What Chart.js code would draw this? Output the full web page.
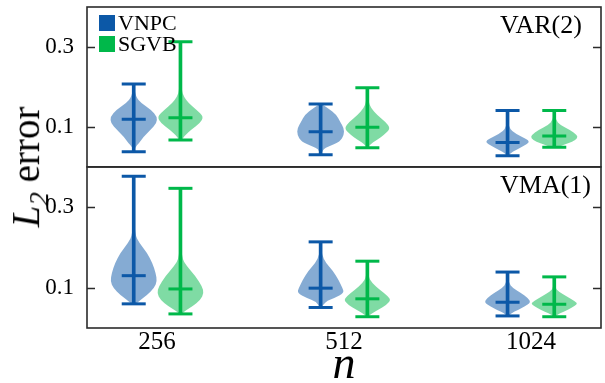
<html>
<head>
  <title>L2 error violins</title>
  <script src="https://cdn.jsdelivr.net/npm/chart.js"></script>
  <style>
    body { margin: 0; background: #fff; }
    #wrap { position: relative; width: 605px; height: 383px; overflow: hidden; }
    #topChart { position: absolute; left: 0; top: 0; }
    #bottomChart { position: absolute; left: 0; top: 160px; }
    #ylabel {
      position: absolute; left: 29px; top: 167px;
      transform: translate(-50%, -50%) rotate(-90deg);
      font-family: 'Liberation Serif'; font-size: 39px; white-space: nowrap; color: #000;
    }
    #ylabel sub { font-size: 27px; font-style: italic; }
  </style>
</head>
<body>
  <div id="wrap">
    <canvas id="topChart" width="605" height="173"></canvas>
    <canvas id="bottomChart" width="605" height="223"></canvas>
    <div id="ylabel"><i>L</i><sub>2</sub> error</div>
  </div>

  <script>
    // x categories and y ticks
    const categories = ['256', '512', '1024'];
    const methods = ['VNPC', 'SGVB'];
    const yTicks = [0.1, 0.3];

    // VAR(2) panel: min / median / max for each n
    const var2VnpcMin = [0.038, 0.030, 0.0275];
    const var2VnpcMedian = [0.119, 0.088, 0.061];
    const var2VnpcMax = [0.2075, 0.157, 0.141];
    const var2SgvbMin = [0.0675, 0.048, 0.049];
    const var2SgvbMedian = [0.123, 0.099, 0.0775];
    const var2SgvbMax = [0.313, 0.198, 0.141];

    // VMA(1) panel
    const vma1VnpcMin = [0.060, 0.051, 0.030];
    const vma1VnpcMedian = [0.130, 0.099, 0.064];
    const vma1VnpcMax = [0.377, 0.214, 0.139];
    const vma1SgvbMin = [0.035, 0.028, 0.028];
    const vma1SgvbMedian = [0.097, 0.0725, 0.059];
    const vma1SgvbMax = [0.347, 0.166, 0.127];

    // violin outlines, [value, relative half width], read bottom to top
    const var2VnpcShapes = [
      [[0.038,0.01],[0.049,0.06],[0.059,0.22],[0.076,0.43],[0.0925,0.72],[0.109,0.98],[0.126,1.0],[0.1425,0.74],[0.159,0.33],[0.176,0.08],[0.2075,0.01]],
      [[0.03,0.02],[0.045,0.1],[0.0508,0.35],[0.0633,0.83],[0.08,1.0],[0.0967,1.0],[0.1133,0.83],[0.13,0.68],[0.1467,0.32],[0.157,0.05]],
      [[0.0275,0.03],[0.0342,0.12],[0.0425,0.36],[0.0508,0.65],[0.0633,1.0],[0.0758,0.58],[0.0883,0.19],[0.1008,0.06],[0.12,0.02],[0.141,0.01]]
    ];
    const var2SgvbShapes = [
      [[0.0675,0.05],[0.08,0.2],[0.0925,0.46],[0.109,0.83],[0.126,1.0],[0.1425,0.68],[0.159,0.36],[0.176,0.14],[0.1925,0.05],[0.25,0.02],[0.313,0.01]],
      [[0.048,0.03],[0.055,0.1],[0.0675,0.4],[0.08,0.72],[0.0967,1.0],[0.1133,0.76],[0.13,0.41],[0.1467,0.16],[0.1633,0.05],[0.198,0.01]],
      [[0.049,0.15],[0.055,0.4],[0.0633,0.78],[0.0717,1.0],[0.08,0.97],[0.0925,0.68],[0.105,0.25],[0.1175,0.06],[0.141,0.01]]
    ];
    const vma1VnpcShapes = [
      [[0.06,0.1],[0.07,0.3],[0.0825,0.58],[0.0992,0.87],[0.1158,1.0],[0.1367,0.94],[0.1617,0.8],[0.1867,0.57],[0.2117,0.23],[0.2325,0.05],[0.3,0.01],[0.377,0.01]],
      [[0.0508,0.03],[0.0658,0.2],[0.0742,0.6],[0.0867,1.0],[0.0992,0.94],[0.12,0.76],[0.1408,0.54],[0.1617,0.22],[0.1825,0.05],[0.214,0.01]],
      [[0.03,0.05],[0.0367,0.15],[0.045,0.45],[0.0533,0.72],[0.0633,1.0],[0.0742,0.87],[0.0867,0.58],[0.0992,0.22],[0.1117,0.05],[0.139,0.01]]
    ];
    const vma1SgvbShapes = [
      [[0.035,0.05],[0.0408,0.15],[0.0533,0.5],[0.07,0.86],[0.0867,1.0],[0.1033,0.93],[0.1283,0.65],[0.1533,0.27],[0.1742,0.05],[0.25,0.01],[0.347,0.01]],
      [[0.0283,0.03],[0.0367,0.2],[0.045,0.47],[0.0575,0.83],[0.07,1.0],[0.0783,0.88],[0.095,0.54],[0.1117,0.2],[0.1283,0.04],[0.166,0.01]],
      [[0.0283,0.05],[0.0325,0.1],[0.0408,0.4],[0.0492,0.72],[0.06,1.0],[0.0658,0.9],[0.0783,0.54],[0.0908,0.18],[0.0992,0.05],[0.127,0.01]]
    ];

    const blue = 'rgb(12, 88, 167)';
    const blueFill = 'rgba(12, 88, 167, 0.5)';
    const green = 'rgb(0, 184, 74)';
    const greenFill = 'rgba(0, 184, 74, 0.5)';
    const serif = 'Liberation Serif';
    const frameColor = '#2b2b2b';

    // draw violin bodies under the whisker datasets
    const violinPlugin = {
      id: 'violins',
      beforeDatasetsDraw(chart, args, opts) {
        const { ctx, scales: { x, y } } = chart;
        const half = x.getPixelForValue(0.125) - x.getPixelForValue(0);
        opts.series.forEach(s => {
          s.shapes.forEach((shape, i) => {
            const cx = x.getPixelForValue(i + s.offset);
            const right = shape.map(p => [cx + p[1] * half, y.getPixelForValue(p[0])]);
            const left = shape.map(p => [cx - p[1] * half, y.getPixelForValue(p[0])]).reverse();
            const pts = right.concat(left);
            ctx.save();
            ctx.beginPath();
            ctx.moveTo(pts[0][0], pts[0][1]);
            for (let k = 1; k < pts.length - 1; k++) {
              const mx = (pts[k][0] + pts[k + 1][0]) / 2;
              const my = (pts[k][1] + pts[k + 1][1]) / 2;
              ctx.quadraticCurveTo(pts[k][0], pts[k][1], mx, my);
            }
            ctx.lineTo(pts[pts.length - 1][0], pts[pts.length - 1][1]);
            ctx.closePath();
            ctx.fillStyle = s.fill;
            ctx.fill();
            ctx.restore();
          });
        });
      }
    };

    // frame, inward ticks, panel label, legend
    const framePlugin = {
      id: 'frame',
      afterDraw(chart, args, opts) {
        const { ctx, chartArea: a, scales: { y } } = chart;
        ctx.save();
        ctx.strokeStyle = frameColor;
        ctx.lineWidth = 1.6;
        ctx.strokeRect(a.left, a.top, a.right - a.left, a.bottom - a.top);
        yTicks.forEach(v => {
          const py = Math.round(y.getPixelForValue(v)) + 0.5;
          ctx.beginPath();
          ctx.moveTo(a.left, py); ctx.lineTo(a.left + 8, py);
          ctx.moveTo(a.right, py); ctx.lineTo(a.right - 8, py);
          ctx.stroke();
        });
        ctx.fillStyle = '#000';
        ctx.font = '26px "' + serif + '"';
        ctx.textAlign = 'left';
        ctx.textBaseline = 'alphabetic';
        ctx.fillText(opts.label, a.left + 413, a.top + 26);
        if (opts.legend) {
          ctx.font = '22px "' + serif + '"';
          [blue, green].forEach((c, i) => {
            ctx.fillStyle = c;
            ctx.fillRect(a.left + 12, a.top + 8 + i * 21, 16, 16);
            ctx.fillStyle = '#000';
            ctx.fillText(methods[i], a.left + 31, a.top + 23 + i * 21);
          });
        }
        ctx.restore();
      }
    };

    function buildDatasets(mins, medians, maxs, color, offset) {
      const pos = categories.map((c, i) => i + offset);
      return [
        {
          type: 'bar',
          data: pos.map((x, i) => ({ x: x, y: [mins[i], maxs[i]] })),
          backgroundColor: color,
          borderWidth: 0,
          barThickness: 3,
          grouped: false
        },
        {
          type: 'scatter',
          data: pos.map((x, i) => ({ x: x, y: mins[i] })).concat(pos.map((x, i) => ({ x: x, y: maxs[i] }))),
          pointStyle: 'line',
          pointRadius: 12,
          borderWidth: 3,
          borderColor: color
        },
        {
          type: 'scatter',
          data: pos.map((x, i) => ({ x: x, y: medians[i] })),
          pointStyle: 'line',
          pointRadius: 12,
          borderWidth: 3,
          borderColor: color
        }
      ];
    }

    function yScale() {
      return {
        type: 'linear',
        min: 0,
        max: 0.4,
        afterBuildTicks: s => { s.ticks = yTicks.map(v => ({ value: v })); },
        afterFit: s => { s.width = 87; },
        grid: { display: false },
        border: { display: false },
        ticks: {
          callback: v => v.toFixed(1),
          color: '#000',
          padding: 5,
          font: { family: serif, size: 23, lineHeight: 0.1 }
        }
      };
    }

    function makePanel(canvasId, label, sets, showX, legend) {
      const xScale = {
        type: 'linear',
        min: -0.375,
        max: 2.375,
        offset: false,
        display: showX,
        afterBuildTicks: s => { s.ticks = categories.map((c, i) => ({ value: i })); },
        grid: { display: false, drawTicks: false },
        border: { display: false },
        ticks: {
          callback: v => categories[v],
          color: '#000',
          padding: -1,
          maxRotation: 0,
          font: { family: serif, size: 25 }
        },
        title: {
          display: true,
          text: 'n',
          color: '#000',
          padding: 0,
          font: { family: serif, size: 46, style: 'italic', lineHeight: 0.75 }
        }
      };
      if (showX) xScale.afterFit = s => { s.height = 55; };
      new Chart(document.getElementById(canvasId), {
        type: 'scatter',
        data: {
          datasets: buildDatasets(sets[0].min, sets[0].median, sets[0].max, blue, -0.125)
            .concat(buildDatasets(sets[1].min, sets[1].median, sets[1].max, green, 0.125))
        },
        options: {
          responsive: false,
          maintainAspectRatio: false,
          animation: false,
          layout: { autoPadding: false, padding: { top: 7, right: 4, bottom: 0, left: 0 } },
          scales: { x: xScale, y: yScale() },
          plugins: {
            legend: { display: false },
            tooltip: { enabled: false },
            violins: {
              series: [
                { shapes: sets[0].shapes, fill: blueFill, offset: -0.125 },
                { shapes: sets[1].shapes, fill: greenFill, offset: 0.125 }
              ]
            },
            frame: { label: label, legend: legend }
          }
        },
        plugins: [violinPlugin, framePlugin]
      });
    }

    makePanel('topChart', 'VAR(2)', [
      { min: var2VnpcMin, median: var2VnpcMedian, max: var2VnpcMax, shapes: var2VnpcShapes },
      { min: var2SgvbMin, median: var2SgvbMedian, max: var2SgvbMax, shapes: var2SgvbShapes }
    ], false, true);

    makePanel('bottomChart', 'VMA(1)', [
      { min: vma1VnpcMin, median: vma1VnpcMedian, max: vma1VnpcMax, shapes: vma1VnpcShapes },
      { min: vma1SgvbMin, median: vma1SgvbMedian, max: vma1SgvbMax, shapes: vma1SgvbShapes }
    ], true, false);
  </script>
</body>
</html>
